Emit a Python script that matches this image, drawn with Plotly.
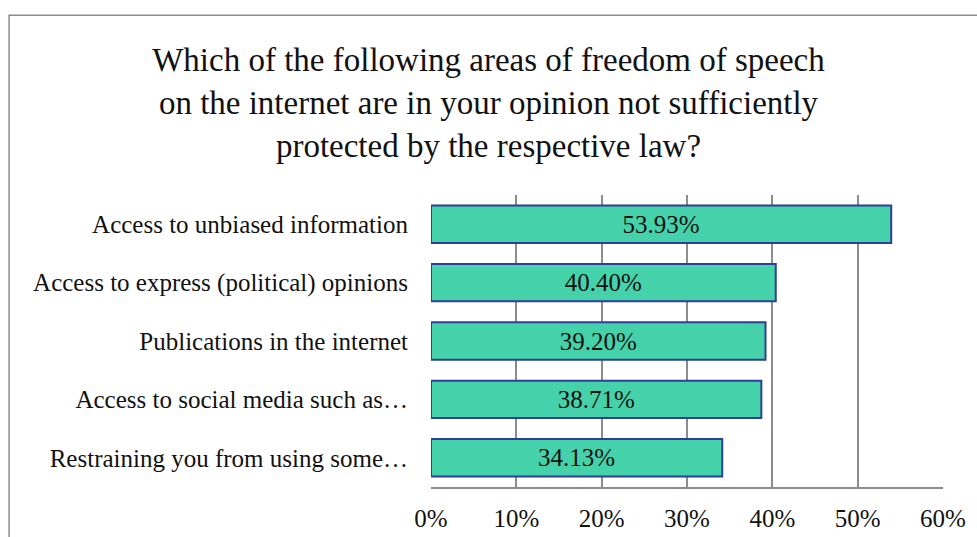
import plotly.graph_objects as go

categories = [
    "Access to unbiased information",
    "Access to express (political) opinions",
    "Publications in the internet",
    "Access to social media such as…",
    "Restraining you from using some…",
]
shares = [53.93, 40.40, 39.20, 38.71, 34.13]
tick_vals = [0, 10, 20, 30, 40, 50, 60]
tick_text = ["0%", "10%", "20%", "30%", "40%", "50%", "60%"]

title_text = ("Which of the following areas of freedom of speech<br>"
              "on the internet are in your opinion not sufficiently<br>"
              "protected by the respective law?")

serif = "Liberation Serif, Times New Roman, serif"

fig = go.Figure(
    go.Bar(
        x=shares,
        y=categories,
        orientation="h",
        width=0.64,
        marker=dict(color="#45D1A9", line=dict(color="#2F3F99", width=2)),
        text=[f"{v:.2f}%" for v in shares],
        textposition="inside",
        insidetextanchor="middle",
        textfont=dict(family=serif, size=25, color="#111111"),
        cliponaxis=False,
    )
)

fig.update_layout(
    width=977,
    height=537,
    margin=dict(l=431, r=34, t=195, b=50),
    paper_bgcolor="white",
    plot_bgcolor="white",
    showlegend=False,
    title=dict(
        text=title_text,
        font=dict(family=serif, size=33, color="#111111"),
        x=0.5,
        xanchor="center",
        xref="container",
        y=0.868,
        yanchor="top",
        yref="container",
    ),
    xaxis=dict(
        range=[0, 60],
        tickvals=tick_vals,
        ticktext=tick_text,
        showgrid=True,
        gridcolor="#8C8C8C",
        gridwidth=1.5,
        showline=True,
        linecolor="#8C8C8C",
        linewidth=1.5,
        zeroline=False,
        tickfont=dict(family=serif, size=25, color="#111111"),
        ticks="",
        ticklabelstandoff=8,
        automargin=False,
        fixedrange=True,
    ),
    yaxis=dict(
        categoryorder="array",
        categoryarray=categories[::-1],
        tickfont=dict(family=serif, size=25, color="#111111"),
        showgrid=False,
        showline=False,
        zeroline=False,
        ticks="",
        ticklabelstandoff=22,
        automargin=False,
        fixedrange=True,
    ),
    shapes=[
        dict(
            type="path",
            xref="paper",
            yref="paper",
            path="M -0.824 -0.4 L -0.824 1.616 L 1.2 1.616",
            line=dict(color="#8C8C8C", width=1.5),
        )
    ],
)

fig.write_html("out.html")
